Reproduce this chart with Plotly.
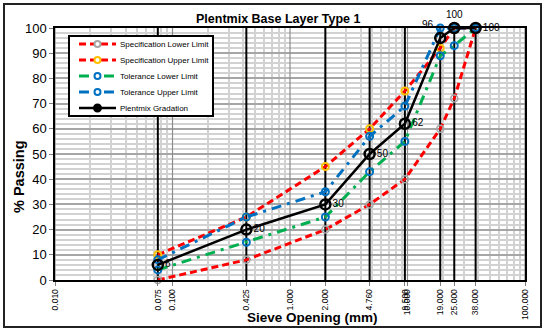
import plotly.graph_objects as go

sieves = [0.075, 0.425, 2.0, 4.76, 9.5, 19.0, 25.0, 38.0]
spec_lower = [0, 8, 20, 30, 40, 60, 72, 100]
spec_upper = [10, 25, 45, 60, 75, 92, 100, 100]
tol_lower = [4, 15, 25, 43, 55, 89, 93, 100]
tol_upper = [8, 25, 35, 57, 69, 100, 100, 100]
gradation = [6, 20, 30, 50, 62, 96, 100, 100]
grad_labels = ["6", "20", "30", "50", "62", "96", "100", "100"]
grad_label_pos = ["middle right", "middle right", "middle right", "middle right",
                  "middle right", "top left", "top center", "middle right"]
series_names = ["Specification Lower Limit", "Specification Upper Limit",
                "Tolerance Lower Limit", "Tolerance Upper Limit", "Plentmix Gradation"]

x_ticks = [0.01, 0.075, 0.1, 0.425, 1.0, 2.0, 4.76, 9.5, 10.0, 19.0, 25.0, 38.0, 100.0]
decades = [0.01, 0.1, 1.0, 10.0, 100.0]
log_minor = [k * 10.0 ** n for n in range(-2, 2) for k in range(2, 10)]

SANS = "Liberation Sans, Arial"

# plot-area geometry in pixels
L, R, T, B, W, H = 55, 25, 28, 52, 550, 332
PW, PH = W - L - R, H - T - B


def px(x):
    return (x - L) / PW


def py(y):
    return (H - B - y) / PH


RED_DASH = "7px,4px"
DASHDOT = "10px,6px,3px,6px"
styles = [
    dict(color="#FF0000", dash=RED_DASH, width=3, mcolor="#A6A6A6", msize=7, mw=1.5),
    dict(color="#FF0000", dash=RED_DASH, width=3, mcolor="#FFC000", msize=7, mw=2),
    dict(color="#00B050", dash=DASHDOT, width=3, mcolor="#0070C0", msize=7, mw=2),
    dict(color="#0070C0", dash=DASHDOT, width=3, mcolor="#0070C0", msize=7, mw=2),
    dict(color="#000000", dash="solid", width=2.5, mcolor="#000000", msize=10, mw=2.5),
]
series = [spec_lower, spec_upper, tol_lower, tol_upper, gradation]

fig = go.Figure()
for i, (name, vals, st) in enumerate(zip(series_names, series, styles)):
    is_grad = i == 4
    fig.add_trace(go.Scatter(
        x=sieves, y=vals, name=name,
        mode="lines+markers+text" if is_grad else "lines+markers",
        text=grad_labels if is_grad else None,
        textposition=grad_label_pos if is_grad else None,
        textfont=dict(family=SANS, size=10, color="#000000"),
        line=dict(color=st["color"], width=st["width"], dash=st["dash"]),
        marker=dict(symbol="circle-open", size=st["msize"], color=st["mcolor"],
                    line=dict(width=st["mw"])),
        hoverinfo="skip",
        cliponaxis=False, showlegend=False))

shapes = []
for d in decades:
    shapes.append(dict(type="line", xref="x", yref="y", x0=d, x1=d, y0=0, y1=100,
                       line=dict(color="#8C8C8C", width=1.2), layer="between"))
for s in sieves:
    shapes.append(dict(type="line", xref="x", yref="y", x0=s, x1=s, y0=0, y1=100,
                       line=dict(color="#000000", width=2), layer="between"))
# outer chart border
shapes.append(dict(type="rect", xref="paper", yref="paper",
                   x0=px(4), x1=px(541), y0=py(327), y1=py(4),
                   line=dict(color="#222222", width=2), layer="below"))

# legend box drawn by hand (tight row spacing like the original)
annotations = []
shapes.append(dict(type="rect", xref="paper", yref="paper",
                   x0=px(69), x1=px(213), y0=py(116), y1=py(36),
                   line=dict(color="#000000", width=2), fillcolor="#FFFFFF", layer="above"))
for i, (name, st) in enumerate(zip(series_names, styles)):
    yy = 44 + 16 * i
    shapes.append(dict(type="line", xref="paper", yref="paper",
                       x0=px(79), x1=px(116), y0=py(yy), y1=py(yy),
                       line=dict(color=st["color"], width=st["width"], dash=st["dash"]),
                       layer="above"))
    r = 3 if i < 4 else 3.5
    shapes.append(dict(type="circle", xref="paper", yref="paper",
                       xsizemode="pixel", ysizemode="pixel",
                       xanchor=px(97.5), yanchor=py(yy),
                       x0=-r, x1=r, y0=-r, y1=r,
                       line=dict(color=st["mcolor"], width=2),
                       fillcolor="#FFFFFF" if i < 4 else "#000000", layer="above"))
    annotations.append(dict(xref="paper", yref="paper", x=px(118), y=py(yy),
                            xanchor="left", yanchor="middle", showarrow=False,
                            text=name, font=dict(family=SANS, size=8, color="#000000")))

# axis titles and chart title placed like the original
annotations.append(dict(xref="paper", yref="paper", x=px(312), y=py(317),
                        xanchor="center", yanchor="middle", showarrow=False,
                        text="<b>Sieve Opening (mm)</b>",
                        font=dict(family=SANS, size=13.5, color="#000000")))
annotations.append(dict(xref="paper", yref="paper", x=px(19), y=py(177),
                        xanchor="center", yanchor="middle", showarrow=False,
                        textangle=-90, text="<b>% Passing</b>",
                        font=dict(family=SANS, size=14.5, color="#000000")))
annotations.append(dict(xref="paper", yref="paper", x=px(278), y=py(19),
                        xanchor="center", yanchor="middle", showarrow=False,
                        text="<b>Plentmix Base Layer Type 1</b>",
                        font=dict(family=SANS, size=12.5, color="#000000")))

fig.update_layout(
    width=W, height=H,
    margin=dict(l=L, r=R, t=T, b=B, autoexpand=False),
    paper_bgcolor="#FFFFFF", plot_bgcolor="#FFFFFF",
    font=dict(family=SANS, color="#000000"),
    showlegend=False,
    hovermode=False,
    shapes=shapes,
    annotations=annotations,
)

fig.update_xaxes(
    type="log", range=[-2, 2], automargin=False,
    tickmode="array", tickvals=x_ticks, tickformat=".3f", tickangle=-90,
    tickfont=dict(size=8.5), ticks="outside", ticklen=4, tickcolor="#808080",
    showgrid=False,
    minor=dict(tickmode="array", tickvals=log_minor, showgrid=True,
               gridcolor="#D2D2D2", gridwidth=1.5, ticks=""),
    showline=True, linecolor="#000000", linewidth=1.5, mirror=True,
    zeroline=False, fixedrange=True,
)
fig.update_yaxes(
    range=[0, 100], dtick=10, tickfont=dict(size=13), automargin=False,
    ticks="outside", ticklen=4, tickcolor="#808080",
    showgrid=True, gridcolor="#A6A6A6", gridwidth=1.5,
    minor=dict(dtick=2, showgrid=True, gridcolor="#D2D2D2", gridwidth=1.5, ticks=""),
    showline=True, linecolor="#000000", linewidth=1.5, mirror=True,
    zeroline=False, fixedrange=True,
)

fig.write_html("out.html", config={"displayModeBar": False},
               post_script="document.body.style.margin='0';")
